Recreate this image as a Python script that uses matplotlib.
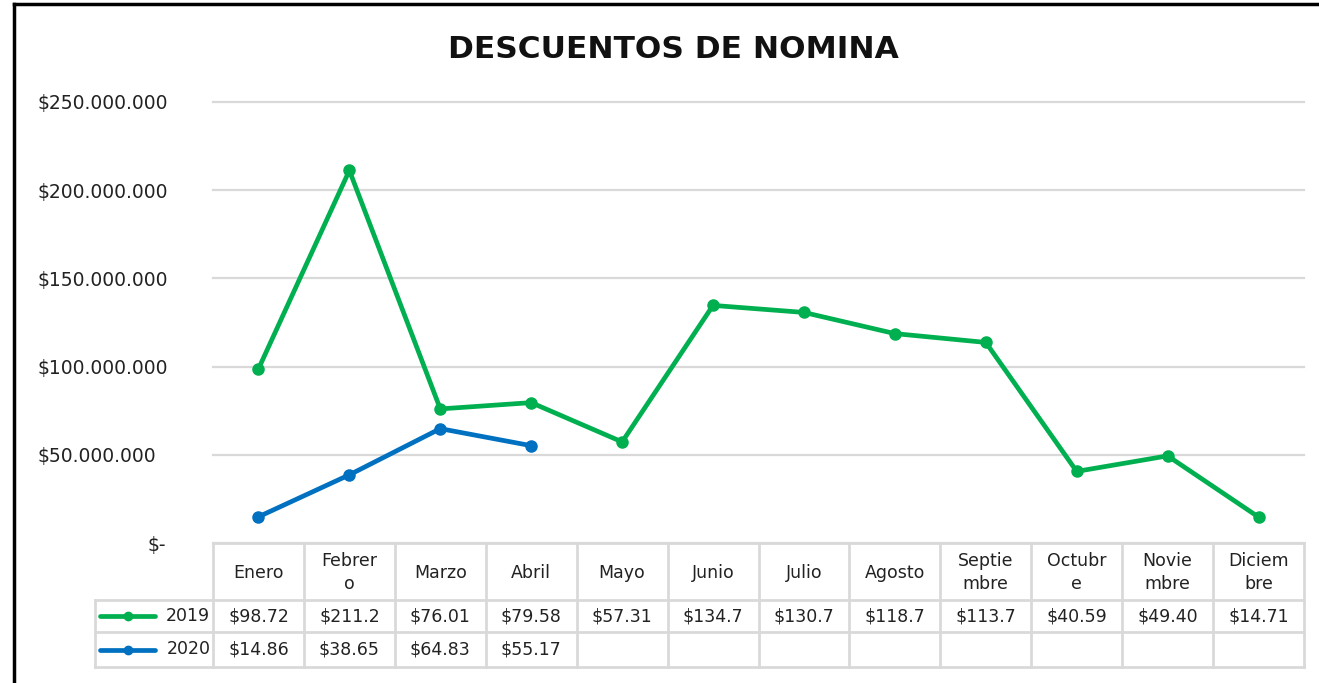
import numpy as np
import matplotlib.pyplot as plt
from matplotlib.lines import Line2D
from matplotlib.transforms import blended_transform_factory

# Descuentos de nomina por mes (millones de pesos)
meses = ['Enero', 'Febrer\no', 'Marzo', 'Abril', 'Mayo', 'Junio', 'Julio',
         'Agosto', 'Septie\nmbre', 'Octubr\ne', 'Novie\nmbre', 'Diciem\nbre']
desc_2019 = [98.72, 211.2, 76.01, 79.58, 57.31, 134.7, 130.7, 118.7, 113.7, 40.59, 49.40, 14.71]
desc_2020 = [14.86, 38.65, 64.83, 55.17]
series = [('2019', desc_2019, '#00B050'), ('2020', desc_2020, '#0070C0')]
y_ticks = [0, 50, 100, 150, 200, 250]

plt.rcParams['font.family'] = ['DejaVu Sans']
W, H = 1319, 683
fig = plt.figure(figsize=(W / 100, H / 100), dpi=100)
fig.patch.set_facecolor('white')

# outer frame (only left and top edges fall inside the image)
fig.add_artist(Line2D([14 / W, 14 / W], [0, 1 - 4 / H], color='black', lw=2.5))
fig.add_artist(Line2D([14 / W, 1], [1 - 4 / H, 1 - 4 / H], color='black', lw=2.5))

ax = fig.add_axes([213 / W, (H - 543) / H, (1304 - 213) / W, (543 - 102) / H])
x = np.arange(len(meses))
for name, vals, col in series:
    ax.plot(x[:len(vals)], np.array(vals) * 1e6, color=col, lw=3.4,
            marker='o', markersize=8, solid_capstyle='round', zorder=3)

ax.set_xlim(-0.5, len(meses) - 0.5)
ax.set_ylim(0, 250e6)
ax.set_yticks([v * 1e6 for v in y_ticks])
ax.set_yticklabels(['' if v == 0 else '$' + f'{v * 1_000_000:,}'.replace(',', '.')
                    for v in y_ticks], ha='left')
ax.tick_params(axis='y', length=0, pad=175 * 0.72, labelsize=13.5, labelcolor='#222222')
ax.set_xticks([])
ax.grid(axis='y', color='#D9D9D9', lw=1.6)
for gl in ax.get_ygridlines():
    gl.set_clip_on(False)
ax.set_axisbelow(True)
for s in ax.spines.values():
    s.set_visible(False)
trans = blended_transform_factory(ax.transAxes, ax.transData)
ax.text(-0.06, -1.5e6, '$-', transform=trans, ha='left', va='center',
        fontsize=13.5, color='#222222')

fig.text(673 / W, 1 - 50 / H, 'DESCUENTOS DE NOMINA', ha='center', va='center',
         fontsize=22.5, fontweight='bold', color='#111111')

# data table under the chart
lw_col = 118 / ((1304 - 213) / 12)
tax = fig.add_axes([95 / W, (H - 667) / H, (1304 - 95) / W, (667 - 543) / H])
tax.set_xlim(-0.5 - lw_col, len(meses) - 0.5)
tax.set_ylim(124, 0)
tax.axis('off')
rows = [0, 57, 89, 124]
gcol = '#D9D9D9'
left = -0.5 - lw_col
right = len(meses) - 0.5
tax.plot([-0.5, right], [rows[0]] * 2, color=gcol, lw=2)
for r in rows[1:]:
    tax.plot([left, right], [r, r], color=gcol, lw=2)
tax.plot([left, left], [rows[1], rows[3]], color=gcol, lw=2)
for i in range(len(meses) + 1):
    tax.plot([i - 0.5, i - 0.5], [rows[0], rows[3]], color=gcol, lw=2)
for xl in tax.lines:
    xl.set_clip_on(False)

for i, m in enumerate(meses):
    tax.text(i, (rows[0] + rows[1]) / 2 + 1, m, ha='center', va='center',
             fontsize=12.5, color='#222222', linespacing=1.3)

for k, (name, vals, col) in enumerate(series):
    yc = (rows[k + 1] + rows[k + 2]) / 2
    x0, x1 = left + 0.06, left + 0.66
    tax.plot([x0, x1], [yc, yc], color=col, lw=3.4, solid_capstyle='round', clip_on=False)
    tax.plot([(x0 + x1) / 2], [yc], 'o', color=col, markersize=6, clip_on=False)
    tax.text(-0.53, yc, name, ha='right', va='center', fontsize=12.5, color='#222222')
    for i, v in enumerate(vals):
        tax.text(i, yc, f'${v:.2f}'[:6], ha='center', va='center',
                 fontsize=12.5, color='#222222')

fig.savefig('out.png', dpi=100)
